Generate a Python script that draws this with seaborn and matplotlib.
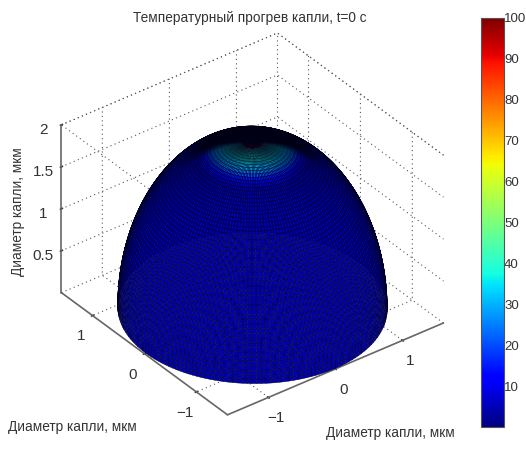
import numpy as np
import matplotlib
matplotlib.use("Agg")
import matplotlib.pyplot as plt
import seaborn as sns

title = "Температурный прогрев капли, t=0 с"
axis_label = "Диаметр капли, мкм"
x_ticks = [-1, 0, 1]
y_ticks = [-1, 0, 1]
z_ticks = [0.5, 1, 1.5, 2]
z_ticklabels = ["0.5", "1", "1.5", "2"]
cbar_ticks = [10, 20, 30, 40, 50, 60, 70, 80, 90, 100]
x_lim = (-1.61, 1.61)
y_lim = (-1.6, 1.6)
z_lim = (0, 2)
meridian_deg = np.arange(0, 361, 2)
# dome profile (rows from the apex to the rim), in fractions of radius / height
radius_frac = [0, .0262, .0523, .0785, .1045, .1305, .1564, .1822, .2079, .2334, .2588, .2840, .3090, .3338, .3584,
               .3827, .4067, .4305, .4540, .4772, .5, .5225, .5446, .5664, .5878, .6088, .6293, .6494, .6691, .6884,
               .7071, .7254, .7431, .7604, .7771, .7934, .8090, .8241, .8387, .8526, .866, .8788, .8910, .9026, .9135,
               .9239, .9336, .9426, .9511, .9588, .9659, .9724, .9781, .9833, .9877, .9914, .9945, .9969, .9986, .9997, 1]
height_frac = radius_frac[::-1]
dome_radius = 1.59
dome_height = 1.97
# temperature per mesh row
row_temp = [100, 100, 95, 45, 40, 40, 40, 38, 36, 34, 30, 26, 20, 15, 10, 7] + [4] * 44
cap_rows = 22

sns.set_theme(style="white")
plt.rcParams["font.family"] = ["Liberation Sans", "DejaVu Sans"]
jet = matplotlib.colormaps["jet"]
norm = matplotlib.colors.Normalize(0, 100)
view_azim = -127.25

fig = plt.figure(figsize=(5.26, 4.5), dpi=100)
ax = fig.add_axes([4.4 / 526, -5 / 450, 0.92, 1.0], projection="3d", proj_type="ortho")
ax.set_box_aspect((271.5, 274.6, 202.6), zoom=0.94)
ax.view_init(elev=34, azim=view_azim)
ax.patch.set_alpha(0)

th = np.deg2rad(meridian_deg)
r = np.array(radius_frac) * dome_radius
z = np.array(height_frac) * dome_height
X = np.outer(r, np.cos(th))
Y = np.outer(r, np.sin(th))
Z = np.outer(z, np.ones_like(th))
colors = jet(norm(np.array(row_temp)))
fc = np.repeat(colors[:, None, :], len(th) - 1, axis=1)
# far side of the cap: the foreshortened mesh reads as solid black in the reference, fading toward the sides
th_mid = (th[:-1] + th[1:]) / 2
c = np.cos(th_mid - np.deg2rad(view_azim))
rows = np.arange(len(row_temp))
fade = np.outer(np.clip((cap_rows - rows) / 8, 0, 1), np.clip((0.12 - c) / 0.3, 0, 1))
fc[..., :3] *= (1 - fade)[..., None]
ax.plot_surface(X, Y, Z, facecolors=fc, edgecolor=(0, 0, 0.1), linewidth=0.3, rstride=1, cstride=1, shade=False,
                antialiased=True, zorder=5)

ax.set_xlim(x_lim); ax.set_ylim(y_lim); ax.set_zlim(z_lim)
ax.set_xticks(x_ticks); ax.set_yticks(y_ticks); ax.set_zticks(z_ticks)
ax.set_zticklabels(z_ticklabels)
for a, pad in ((ax.xaxis, 0), (ax.yaxis, 1), (ax.zaxis, 0)):
    a.set_pane_color((1, 1, 1, 0))
    a.pane.set_edgecolor((0, 0, 0, 0))
    a.line.set_color((0, 0, 0, 0))
    a._axinfo["grid"].update(color="#555555", linewidth=0.8, linestyle=(0, (1, 3)))
    a._axinfo["tick"].update(inward_factor=0.06, outward_factor=0.06, color="#444444")
    a.set_tick_params(labelsize=11, colors="#333333", pad=pad)

x0, x1 = x_lim; y0, y1 = y_lim; z0, z1 = z_lim
solid = [((x0, x0), (y0, y1), (z0, z0)), ((x0, x1), (y0, y0), (z0, z0)), ((x0, x0), (y1, y1), (z0, z1))]
dotted = [((x0, x0), (y0, y1), (z1, z1)), ((x0, x1), (y1, y1), (z1, z1)), ((x1, x1), (y0, y1), (z1, z1)),
          ((x1, x1), (y1, y1), (z0, z1)), ((x0, x1), (y1, y1), (z0, z0)), ((x1, x1), (y0, y1), (z0, z0))]
for seg in solid:
    ax.plot3D(*seg, color="#666666", lw=1.2, zorder=1)
for seg in dotted:
    ax.plot3D(*seg, color="#555555", lw=0.8, ls=(0, (1, 3)), zorder=1)
ax.set_xlim(x_lim); ax.set_ylim(y_lim); ax.set_zlim(z_lim)

fig.text(250 / 526, 1 - 18 / 450, title, ha="center", va="center", fontsize=9.8, color="#333333")
fig.text(72 / 526, 1 - 427 / 450, axis_label, ha="center", va="center", fontsize=9.8, color="#333333")
fig.text(390 / 526, 1 - 433 / 450, axis_label, ha="center", va="center", fontsize=9.8, color="#333333")
fig.text(18 / 526, 1 - 212 / 450, axis_label, ha="center", va="center", rotation=90, fontsize=9.8, color="#333333")

cax = fig.add_axes([481 / 526, 1 - 427 / 450, 23 / 526, 409 / 450])
sm = matplotlib.cm.ScalarMappable(norm=norm, cmap=jet)
cb = fig.colorbar(sm, cax=cax, ticks=cbar_ticks)
cb.ax.tick_params(direction="in", length=3, width=0.7, labelsize=9.5, pad=0, colors="#333333", left=True, right=True)
cb.outline.set_edgecolor("#555555")
cb.outline.set_linewidth(0.8)
fig.savefig("out.png", dpi=100)
